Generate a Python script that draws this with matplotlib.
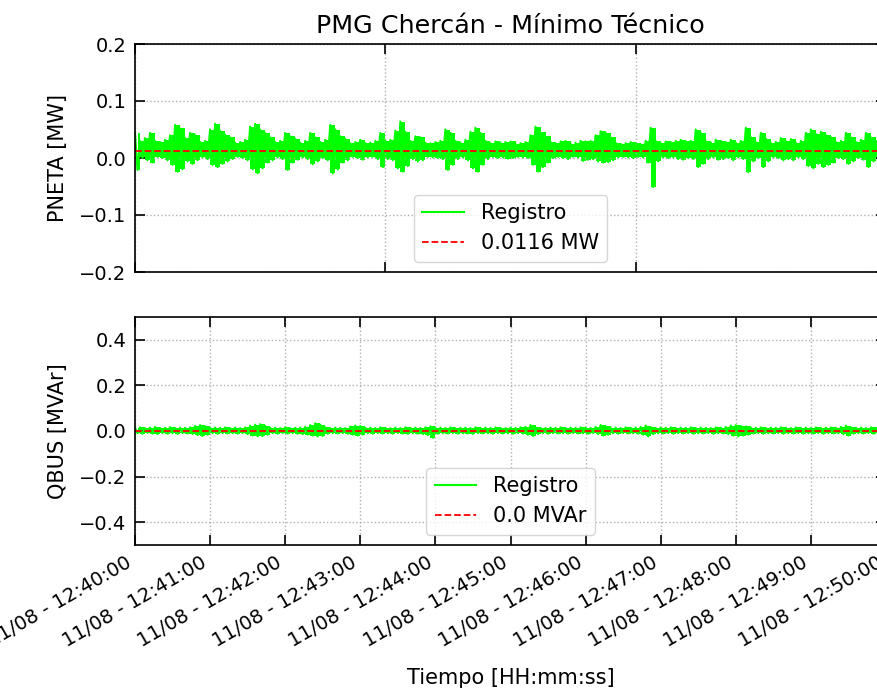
import matplotlib
matplotlib.use('Agg')
import matplotlib.pyplot as plt
import matplotlib.dates as mdates
from datetime import datetime, timedelta

# Registro 11/08, 12:40:00 -> 12:50:00, envelope read every 4 s
t0 = datetime(2021, 8, 11, 12, 40, 0)
t1 = datetime(2021, 8, 11, 12, 50, 0)
STEP = 4  # seconds per envelope bucket

P_MEAN = 0.0116   # MW
Q_MEAN = 0.0      # MVAr

# PNETA [MW], upper / lower envelope
p_up = [.044, .030, .035, .044, .030, .028, .032, .040, .058, .052,
        .035, .044, .040, .028, .030, .050, .060, .048, .041, .036,
        .027, .028, .032, .055, .060, .050, .044, .036, .028, .030,
        .044, .038, .034, .027, .030, .044, .036, .028, .032, .058,
        .050, .038, .034, .026, .028, .032, .026, .027, .030, .044,
        .030, .032, .048, .064, .046, .030, .038, .036, .027, .026,
        .028, .030, .050, .044, .030, .027, .032, .046, .053, .044,
        .030, .026, .029, .027, .028, .029, .025, .026, .028, .040,
        .055, .045, .038, .028, .026, .029, .030, .025, .027, .030,
        .029, .030, .040, .047, .044, .036, .027, .025, .026, .028,
        .026, .024, .030, .053, .030, .026, .029, .028, .030, .032,
        .029, .030, .050, .044, .030, .027, .032, .030, .028, .032,
        .027, .030, .053, .036, .028, .044, .034, .026, .028, .035,
        .030, .033, .027, .030, .044, .050, .042, .046, .040, .036,
        .028, .030, .044, .036, .028, .032, .044, .036, .030, .032]
p_lo = [-.021, .000, -.004, -.008, .002, .000, -.004, -.012, -.024, -.020,
        -.006, -.010, -.004, .001, -.002, -.012, -.016, -.010, -.006, -.002,
        .002, .000, -.004, -.020, -.027, -.018, -.008, -.004, .001, -.002,
        -.021, -.008, -.003, .001, -.002, -.011, -.006, .000, -.004, -.027,
        -.020, -.008, -.004, .002, .000, -.003, .001, .002, -.002, -.016,
        -.002, -.004, -.018, -.024, -.014, -.002, -.006, -.004, .002, .001,
        .000, -.002, -.021, -.012, -.002, .001, -.004, -.018, -.024, -.012,
        -.002, .002, .000, .001, -.001, .000, .002, .001, .000, -.012,
        -.024, -.016, -.008, .000, .002, .000, -.002, .002, .001, -.005,
        -.003, -.002, -.006, -.008, -.007, -.004, .001, .002, .001, .000,
        .002, .001, -.008, -.051, -.006, .001, .000, .001, -.002, -.003,
        .000, -.002, -.016, -.010, -.002, .001, -.003, -.002, .000, -.004,
        .001, -.002, -.025, -.006, .000, -.016, -.006, .001, .000, -.004,
        -.002, -.004, .001, -.002, -.014, -.018, -.010, -.016, -.012, -.008,
        .000, -.002, -.010, -.006, .000, -.003, -.016, -.006, -.002, -.004]

# QBUS [MVAr], upper / lower envelope
q_up = [.014, .016, .012, .015, .018, .013, .014, .017, .013, .015,
        .014, .016, .022, .026, .020, .013, .015, .014, .016, .012,
        .015, .013, .016, .024, .028, .030, .022, .014, .015, .013,
        .016, .012, .014, .015, .018, .026, .034, .028, .016, .013,
        .015, .014, .013, .020, .024, .022, .014, .015, .013, .016,
        .014, .012, .015, .013, .016, .014, .015, .013, .016, .020,
        .014, .015, .013, .016, .012, .014, .015, .013, .016, .014,
        .015, .013, .016, .014, .012, .015, .014, .016, .018, .026,
        .016, .014, .013, .015, .014, .016, .013, .015, .014, .016,
        .015, .013, .018, .026, .020, .014, .015, .013, .016, .014,
        .015, .018, .024, .016, .013, .015, .014, .016, .013, .015,
        .014, .016, .013, .015, .014, .013, .016, .015, .018, .024,
        .026, .022, .020, .015, .014, .016, .013, .015, .014, .016,
        .015, .013, .016, .014, .015, .013, .016, .014, .015, .016,
        .014, .018, .024, .016, .014, .015, .013, .016, .014, .015]
q_lo = [-.010, -.012, -.008, -.011, -.014, -.009, -.012, -.010, -.013, -.009,
        -.011, -.013, -.018, -.022, -.016, -.010, -.012, -.009, -.011, -.010,
        -.012, -.009, -.014, -.020, -.024, -.022, -.016, -.010, -.012, -.009,
        -.011, -.010, -.012, -.014, -.016, -.020, -.024, -.022, -.012, -.010,
        -.011, -.009, -.012, -.016, -.020, -.016, -.010, -.012, -.009, -.011,
        -.010, -.012, -.009, -.011, -.013, -.010, -.012, -.014, -.018, -.030,
        -.012, -.010, -.011, -.009, -.012, -.010, -.011, -.013, -.009, -.011,
        -.010, -.012, -.009, -.011, -.010, -.012, -.009, -.011, -.016, -.022,
        -.014, -.010, -.012, -.009, -.011, -.010, -.012, -.009, -.011, -.010,
        -.012, -.009, -.014, -.020, -.016, -.010, -.012, -.009, -.011, -.010,
        -.012, -.016, -.024, -.014, -.010, -.011, -.009, -.012, -.010, -.011,
        -.009, -.012, -.010, -.011, -.009, -.012, -.010, -.011, -.014, -.020,
        -.024, -.020, -.016, -.011, -.009, -.012, -.010, -.011, -.009, -.012,
        -.010, -.011, -.009, -.012, -.010, -.011, -.009, -.012, -.010, -.011,
        -.010, -.014, -.020, -.012, -.010, -.011, -.009, -.012, -.010, -.011]

top_ticks_s = [0, 200, 400, 600]  # seconds after t0, top panel

GREEN = '#00ff00'


def zigzag(upper, lower):
    # alternate upper/lower samples so the trace looks like the raw record
    t, v = [], []
    for i, (u, l) in enumerate(zip(upper, lower)):
        t.append(t0 + timedelta(seconds=STEP * i))
        v.append(u)
        t.append(t0 + timedelta(seconds=STEP * i + STEP / 2))
        v.append(l)
    return t, v


def draw_record(ax, upper, lower):
    tb = [t0 + timedelta(seconds=STEP * i + STEP / 2) for i in range(len(upper))]
    ax.fill_between(tb, lower, upper, step='mid', color=GREEN, lw=0)
    t, v = zigzag(upper, lower)
    ax.plot(t, v, color=GREEN, lw=1.5, label='Registro')


fig = plt.figure(figsize=(8.78, 6.91), dpi=100)
ax1 = fig.add_axes([135 / 878, 1 - 272 / 691, 751 / 878, 228 / 691])
ax2 = fig.add_axes([135 / 878, 1 - 545 / 691, 751 / 878, 228 / 691])

draw_record(ax1, p_up, p_lo)
ax1.axhline(P_MEAN, color='red', ls='--', lw=1.3, label='0.0116 MW')
ax1.set_ylim(-0.2, 0.2)
ax1.set_yticks([-0.2, -0.1, 0.0, 0.1, 0.2])
ax1.set_xlim(t0, t1)
ax1.set_xticks([t0 + timedelta(seconds=s) for s in top_ticks_s])
ax1.set_xticklabels([])
ax1.set_ylabel('PNETA [MW]', fontsize=15, labelpad=8)
ax1.set_title('PMG Chercán - Mínimo Técnico', fontsize=18.3, pad=8)
ax1.legend(loc='lower center', fontsize=15)

draw_record(ax2, q_up, q_lo)
ax2.axhline(Q_MEAN, color='red', ls='--', lw=1.3, label='0.0 MVAr')
ax2.set_ylim(-0.5, 0.5)
ax2.set_yticks([-0.4, -0.2, 0.0, 0.2, 0.4])
ax2.set_xlim(t0, t1)
ax2.xaxis.set_major_locator(mdates.MinuteLocator())
ax2.xaxis.set_major_formatter(mdates.DateFormatter('%d/%m - %H:%M:%S'))
ax2.set_xlabel('Tiempo [HH:mm:ss]', fontsize=15, labelpad=12)
ax2.set_ylabel('QBUS [MVAr]', fontsize=15, labelpad=8)
ax2.legend(loc='lower center', fontsize=15)

for ax in (ax1, ax2):
    ax.grid(True, ls=':', color='#b0b0b0', lw=1)
    ax.tick_params(direction='in', top=True, right=True, length=7,
                   width=1.2, labelsize=14, pad=6)
    for sp in ax.spines.values():
        sp.set_linewidth(1.2)

for lab in ax2.get_xticklabels():
    lab.set_rotation(30)
    lab.set_ha('right')

fig.savefig('out.png', dpi=100)
